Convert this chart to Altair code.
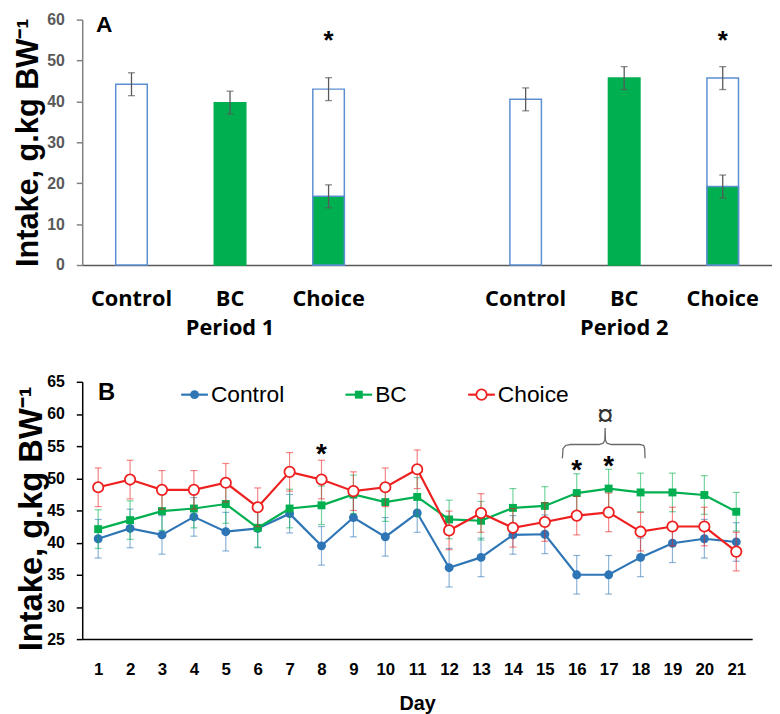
import altair as alt
import pandas as pd

# ---------------- Panel A data ----------------
slot_order = ["P1 Control", "P1 BC", "P1 Choice", "gap", "P2 Control", "P2 BC", "P2 Choice"]
a_groups = ["Control", "BC", "Choice", "Control", "BC", "Choice"]
a_periods = ["1", "1", "1", "2", "2", "2"]
a_total = [44.2, 39.7, 43.0, 40.5, 45.7, 45.7]
a_total_se = [2.8, 2.8, 2.8, 2.8, 2.8, 2.8]
a_choice_slots = ["P1 Choice", "P2 Choice"]
a_choice_bc = [16.8, 19.2]
a_choice_bc_se = [2.8, 2.8]
a_sig = ["", "", "*", "", "", "*"]

# ---------------- Panel B data ----------------
days = [1, 2, 3, 4, 5, 6, 7, 8, 9, 10, 11, 12, 13, 14, 15, 16, 17, 18, 19, 20, 21]
control = [40.6, 42.2, 41.2, 44.0, 41.7, 42.2, 44.5, 39.5, 43.9, 40.9, 44.6,
           36.1, 37.7, 41.2, 41.3, 35.0, 35.0, 37.7, 39.9, 40.6, 40.1]
control_se = [3.0, 3.0, 3.0, 3.0, 3.0, 3.0, 3.0, 3.0, 3.0, 3.0, 3.0,
              3.0, 3.0, 3.0, 3.0, 3.0, 3.0, 3.0, 3.0, 3.0, 3.0]
bc = [42.1, 43.5, 44.9, 45.3, 46.0, 42.3, 45.3, 45.8, 47.5, 46.3, 47.1,
      43.6, 43.4, 45.4, 45.7, 47.7, 48.4, 47.8, 47.8, 47.4, 44.8]
bc_se = [3.0, 3.0, 3.0, 3.0, 3.0, 3.0, 3.0, 3.0, 3.0, 3.0, 3.0,
         3.0, 3.0, 3.0, 3.0, 3.0, 3.0, 3.0, 3.0, 3.0, 3.0]
choice = [48.6, 49.8, 48.2, 48.2, 49.3, 45.5, 51.0, 49.8, 48.0, 48.6, 51.4,
          41.9, 44.6, 42.3, 43.2, 44.2, 44.7, 41.7, 42.5, 42.5, 38.6]
choice_se = [3.0, 3.0, 3.0, 3.0, 3.0, 3.0, 3.0, 3.0, 3.0, 3.0, 3.0,
             3.0, 3.0, 3.0, 3.0, 3.0, 3.0, 3.0, 3.0, 3.0, 3.0]
b_sig_days = [8, 16, 17]
b_sig_y = [54.5, 52.1, 52.6]
brace_x = [15.55, 15.57, 15.65, 15.8, 16.7, 16.83, 16.88, 16.89,
           16.9, 16.95, 17.08, 17.98, 18.1, 18.13, 18.14]
brace_y = [53.1, 54.6, 55.1, 55.25, 55.25, 55.45, 55.9, 57.8,
           55.9, 55.45, 55.25, 55.25, 55.1, 54.6, 53.1]
brace_label = ["\u00a4"]
brace_label_x = [16.89]
brace_label_y = [60.2]

# ---------------- Styles ----------------
GREEN = "#00b050"
BAR_BLUE = "#5b8fd0"
BLUE = "#2e75b6"
RED = "#ee2020"
ERR_GRAY = "#595959"
F_AR = "Liberation Sans, Arial, sans-serif"
F_CAL = "Open Sans, sans-serif"
YTITLE = "Intake, g.kg BW\u207b\u00b9"

A_W, A_H = 697, 248
B_W, B_H = 677, 260

# ---------------- Panel A ----------------
dfA = pd.DataFrame({
    "slot": ["P%s %s" % (p, g) for p, g in zip(a_periods, a_groups)],
    "group": a_groups,
    "value": a_total,
    "se": a_total_se,
    "sig": a_sig,
})
dfA["lo"] = dfA["value"] - dfA["se"]
dfA["hi"] = dfA["value"] + dfA["se"]

dfA_bc = pd.DataFrame({"slot": a_choice_slots, "value": a_choice_bc, "se": a_choice_bc_se})
dfA_bc["lo"] = dfA_bc["value"] - dfA_bc["se"]
dfA_bc["hi"] = dfA_bc["value"] + dfA_bc["se"]

dfA_err = pd.concat([dfA[["slot", "lo", "hi"]], dfA_bc[["slot", "lo", "hi"]]], ignore_index=True)
dfA_sig = dfA[dfA["sig"] != ""]

label_expr = ("datum.value == 'gap' ? '' : (indexof(datum.value, 'BC') >= 0 ? "
              "[split(datum.value, ' ')[1], 'Period ' + substring(datum.value, 1, 2)] : "
              "split(datum.value, ' ')[1])")

xA_axis = alt.Axis(title=None, labelExpr=label_expr, ticks=False, domainColor="#595959",
                   domainWidth=1.5, labelFont=F_CAL, labelFontSize=22, labelFontWeight="bold",
                   labelColor="black", labelPadding=24, labelLineHeight=29, labelAngle=0)
xA_scale = alt.Scale(domain=slot_order, paddingInner=0, paddingOuter=0)
yA_scale = alt.Scale(domain=[0, 60], nice=False)
yA_axis = alt.Axis(title=YTITLE, values=[0, 10, 20, 30, 40, 50, 60], grid=False,
                   domainColor="#808080", domainWidth=1.5, tickColor="#808080", tickSize=6,
                   tickWidth=1.5, labelFont=F_AR, labelFontSize=16, labelFontWeight="bold",
                   labelColor="#595959", labelPadding=12, titleFont=F_AR, titleFontSize=31,
                   titleFontWeight="bold", titleColor="black", titlePadding=2)


def xA(field="slot"):
    return alt.X(field + ":N", scale=xA_scale, axis=xA_axis, sort=slot_order)


def yA(field):
    return alt.Y(field + ":Q", scale=yA_scale, axis=yA_axis)


barsA = alt.Chart(dfA).mark_bar(width=alt.RelativeBandSize(0.32), strokeWidth=1.5).encode(
    x=xA(), y=yA("value"),
    fill=alt.condition("datum.group == 'BC'", alt.value(GREEN), alt.value("white")),
    stroke=alt.condition("datum.group == 'BC'", alt.value(GREEN), alt.value(BAR_BLUE)),
)
greenA = alt.Chart(dfA_bc).mark_bar(width=alt.RelativeBandSize(0.32), strokeWidth=1.5,
                                    fill=GREEN, stroke=BAR_BLUE).encode(x=xA(), y=yA("value"))
errA = alt.Chart(dfA_err).mark_rule(color=ERR_GRAY, strokeWidth=1.3).encode(
    x=xA(), y=yA("lo"), y2="hi:Q")
capLoA = alt.Chart(dfA_err).mark_tick(color=ERR_GRAY, size=7, thickness=1.3).encode(x=xA(), y=yA("lo"))
capHiA = alt.Chart(dfA_err).mark_tick(color=ERR_GRAY, size=7, thickness=1.3).encode(x=xA(), y=yA("hi"))
sigA = alt.Chart(dfA_sig).mark_text(font=F_AR, fontSize=26, fontWeight="bold", color="black",
                                    baseline="middle", dy=3).encode(
    x=xA(), y=alt.datum(55.5), text="sig:N")
tagA = alt.Chart(pd.DataFrame({"t": ["A"]})).mark_text(
    font=F_AR, fontSize=23, fontWeight="bold", color="black", align="left", baseline="middle"
).encode(x=alt.value(14), y=alt.value(6), text="t:N")

chartA = alt.layer(barsA, greenA, errA, capLoA, capHiA, sigA, tagA).properties(width=A_W, height=A_H)

# ---------------- Panel B ----------------
xB_scale = alt.Scale(domain=[0.5, 21.5], nice=False, zero=False)
xB_axis = alt.Axis(title="Day", values=days, grid=False, ticks=False, domainColor="black",
                   domainWidth=1.5, labelFont=F_AR, labelFontSize=17, labelFontWeight="bold",
                   labelColor="black", labelPadding=23, labelFlush=False, titleFont=F_AR,
                   titleFontSize=20, titleFontWeight="bold", titleColor="black", titlePadding=16)
yB_scale = alt.Scale(domain=[25, 65], nice=False, zero=False)
yB_axis = alt.Axis(title=YTITLE, values=[25, 30, 35, 40, 45, 50, 55, 60, 65], grid=False,
                   domainColor="black", domainWidth=1.5, tickColor="black", tickSize=6,
                   tickWidth=1.5, labelFont=F_AR, labelFontSize=16, labelFontWeight="bold",
                   labelColor="black", labelPadding=12, titleFont=F_AR, titleFontSize=33,
                   titleFontWeight="bold", titleColor="black", titlePadding=-2,
                   titleY=B_H / 2 + 8)


def xB(field="day"):
    return alt.X(field + ":Q", scale=xB_scale, axis=xB_axis)


def yB(field):
    return alt.Y(field + ":Q", scale=yB_scale, axis=yB_axis)


def series_layers(values, se, color, shape, size, open_marker):
    df = pd.DataFrame({"day": days, "value": values, "se": se})
    df["lo"] = df["value"] - df["se"]
    df["hi"] = df["value"] + df["se"]
    base = alt.Chart(df)
    rule = base.mark_rule(color=color, opacity=0.55, strokeWidth=1.2).encode(
        x=xB(), y=yB("lo"), y2="hi:Q")
    lo = base.mark_tick(color=color, opacity=0.55, size=7, thickness=1.2, orient="horizontal").encode(
        x=xB(), y=yB("lo"))
    hi = base.mark_tick(color=color, opacity=0.55, size=7, thickness=1.2, orient="horizontal").encode(
        x=xB(), y=yB("hi"))
    line = base.mark_line(color=color, strokeWidth=2.2).encode(x=xB(), y=yB("value"))
    if open_marker:
        pts = base.mark_point(shape=shape, filled=True, fill="white", stroke=color, strokeWidth=1.8,
                              size=size, opacity=1).encode(x=xB(), y=yB("value"))
    else:
        pts = base.mark_point(shape=shape, filled=True, fill=color, strokeWidth=0,
                              size=size, opacity=1).encode(x=xB(), y=yB("value"))
    return [rule, lo, hi, line, pts]


def legend_item(name, color, shape, size, open_marker, x0):
    d = pd.DataFrame({"name": [name]})
    base = alt.Chart(d)
    ln = base.mark_rule(color=color, strokeWidth=2.2).encode(
        x=alt.value(x0), x2=alt.value(x0 + 27), y=alt.value(13))
    if open_marker:
        pt = base.mark_point(shape=shape, filled=True, fill="white", stroke=color, strokeWidth=1.8,
                             size=size, opacity=1).encode(x=alt.value(x0 + 13.5), y=alt.value(13))
    else:
        pt = base.mark_point(shape=shape, filled=True, fill=color, strokeWidth=0,
                             size=size, opacity=1).encode(x=alt.value(x0 + 13.5), y=alt.value(13))
    tx = base.mark_text(font=F_AR, fontSize=23, color="black", align="left", baseline="middle").encode(
        x=alt.value(x0 + 30), y=alt.value(13), text="name:N")
    return [ln, pt, tx]


layersB = []
layersB += series_layers(control, control_se, BLUE, "circle", 81, False)
layersB += series_layers(bc, bc_se, GREEN, "square", 64, False)
layersB += series_layers(choice, choice_se, RED, "circle", 110, True)

dfBrace = pd.DataFrame({"x": brace_x, "y": brace_y, "o": list(range(len(brace_x)))})
brace = alt.Chart(dfBrace).mark_line(color="#6a6a6a", strokeWidth=1.3).encode(
    x=xB("x"), y=yB("y"), order="o:Q")
dfSym = pd.DataFrame({"x": brace_label_x, "y": brace_label_y, "t": brace_label})
sym = alt.Chart(dfSym).mark_text(font=F_AR, fontSize=30, color="#333333", baseline="middle", dy=3).encode(
    x=xB("x"), y=yB("y"), text="t:N")
dfSigB = pd.DataFrame({"x": b_sig_days, "y": b_sig_y, "t": ["*"] * len(b_sig_days)})
sigB = alt.Chart(dfSigB).mark_text(font=F_AR, fontSize=28, fontWeight="bold", color="black",
                                   baseline="middle", dy=6).encode(x=xB("x"), y=yB("y"), text="t:N")
tagB = alt.Chart(pd.DataFrame({"t": ["B"]})).mark_text(
    font=F_AR, fontSize=24, fontWeight="bold", color="black", align="left", baseline="middle"
).encode(x=alt.value(16), y=alt.value(11), text="t:N")

layersB += [brace, sym, sigB, tagB]
layersB += legend_item("Control", BLUE, "circle", 81, False, 100)
layersB += legend_item("BC", GREEN, "square", 64, False, 266)
layersB += legend_item("Choice", RED, "circle", 110, True, 390)

chartB = alt.layer(*layersB).properties(width=B_W, height=B_H)

chart = alt.vconcat(chartA, chartB, spacing=36).properties(
    padding={"left": 5, "top": 0, "right": 0, "bottom": 0}
).configure_view(stroke=None)

chart.save("out.html", embed_options={"renderer": "svg", "actions": False})
